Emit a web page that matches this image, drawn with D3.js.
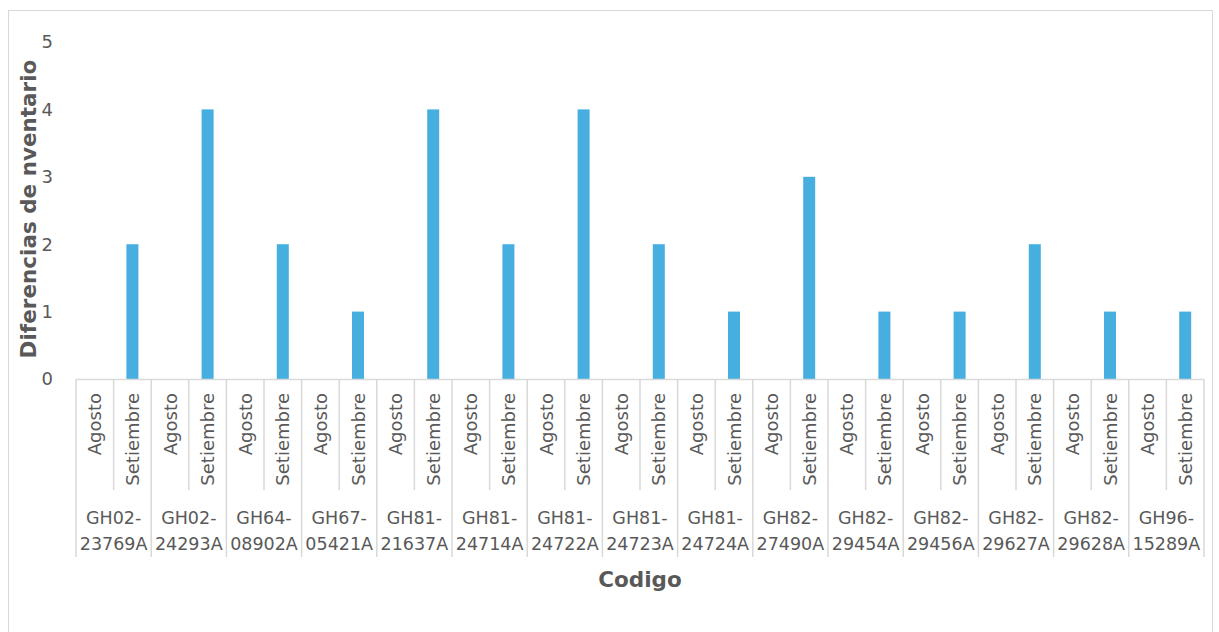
<!DOCTYPE html>
<html><head><meta charset="utf-8">
<script src="https://cdn.jsdelivr.net/npm/d3@7"></script>
<style>body{margin:0;background:#fff;} svg{display:block;font-family:"DejaVu Sans",sans-serif;}</style>
</head><body>
<script>
const codes = ["GH02-23769A","GH02-24293A","GH64-08902A","GH67-05421A","GH81-21637A","GH81-24714A","GH81-24722A","GH81-24723A","GH81-24724A","GH82-27490A","GH82-29454A","GH82-29456A","GH82-29627A","GH82-29628A","GH96-15289A"];
const months = ["Agosto","Setiembre"];
const agosto = [0,0,0,0,0,0,0,0,0,0,0,0,0,0,0];
const setiembre = [2,4,2,1,4,2,4,2,1,3,1,1,2,1,1];
const yTicks = [0,1,2,3,4,5];

const W=1219,H=632;
const svg=d3.select("body").append("svg").attr("width",W).attr("height",H);
svg.append("rect").attr("x",8.5).attr("y",10.5).attr("width",1204).attr("height",640).attr("fill","#fff").attr("stroke","#d9d9d9");

const x0=76, x1=1204, yTop=42, yBot=379;
const txt="#595959", ln="#d9d9d9";
const items=[];
codes.forEach((c,i)=>{items.push({code:c,month:months[0],v:agosto[i]});items.push({code:c,month:months[1],v:setiembre[i]});});
const xg=d3.scaleBand().domain(codes).range([x0,x1]);
const xs=d3.scaleBand().domain(months).range([0,xg.bandwidth()]);
const y=d3.scaleLinear().domain([0,5]).range([yBot,yTop]);

yTicks.forEach(t=>{
  svg.append("text").attr("x",53).attr("y",y(t)).attr("dy","0.36em").attr("text-anchor","end")
   .attr("font-size",18).attr("fill",txt).text(t);
});

const bw=12;
svg.selectAll("rect.bar").data(items.filter(d=>d.v>0)).enter().append("rect")
 .attr("x",d=>xg(d.code)+xs(d.month)+xs.bandwidth()/2-bw/2)
 .attr("y",d=>y(d.v)).attr("width",bw).attr("height",d=>y(0)-y(d.v)).attr("fill","#47AFE0");

svg.append("line").attr("x1",x0).attr("x2",x1).attr("y1",yBot+0.5).attr("y2",yBot+0.5).attr("stroke",ln).attr("stroke-width",1.5);
codes.forEach((c,i)=>{
  const gx=xg(c);
  svg.append("line").attr("x1",gx).attr("x2",gx).attr("y1",yBot).attr("y2",557).attr("stroke",ln).attr("stroke-width",1.5);
  const mx=gx+xs(months[1]);
  svg.append("line").attr("x1",mx).attr("x2",mx).attr("y1",yBot).attr("y2",490).attr("stroke",ln).attr("stroke-width",1.5);
  const cx=gx+xg.bandwidth()/2;
  const parts=c.split("-");
  svg.append("text").attr("x",cx).attr("y",524).attr("text-anchor","middle").attr("font-size",17.5).attr("fill",txt).text(parts[0]+"-");
  svg.append("text").attr("x",cx).attr("y",550).attr("text-anchor","middle").attr("font-size",17.5).attr("fill",txt).text(parts[1]);
  months.forEach(m=>{
    const tx=gx+xs(m)+xs.bandwidth()/2;
    svg.append("text").attr("transform",`translate(${tx+6.5},393) rotate(-90)`).attr("text-anchor","end")
      .attr("font-size",18).attr("fill",txt).text(m);
  });
});
svg.append("line").attr("x1",x1).attr("x2",x1).attr("y1",yBot).attr("y2",557).attr("stroke",ln).attr("stroke-width",1.5);

svg.append("text").attr("x",640).attr("y",587).attr("text-anchor","middle").attr("font-size",21.5).attr("font-weight","bold").attr("fill",txt).text("Codigo");
svg.append("text").attr("transform","translate(36,209) rotate(-90)").attr("text-anchor","middle").attr("font-size",21.5).attr("font-weight","bold").attr("fill",txt).text("Diferencias de nventario");
</script>
</body></html>
